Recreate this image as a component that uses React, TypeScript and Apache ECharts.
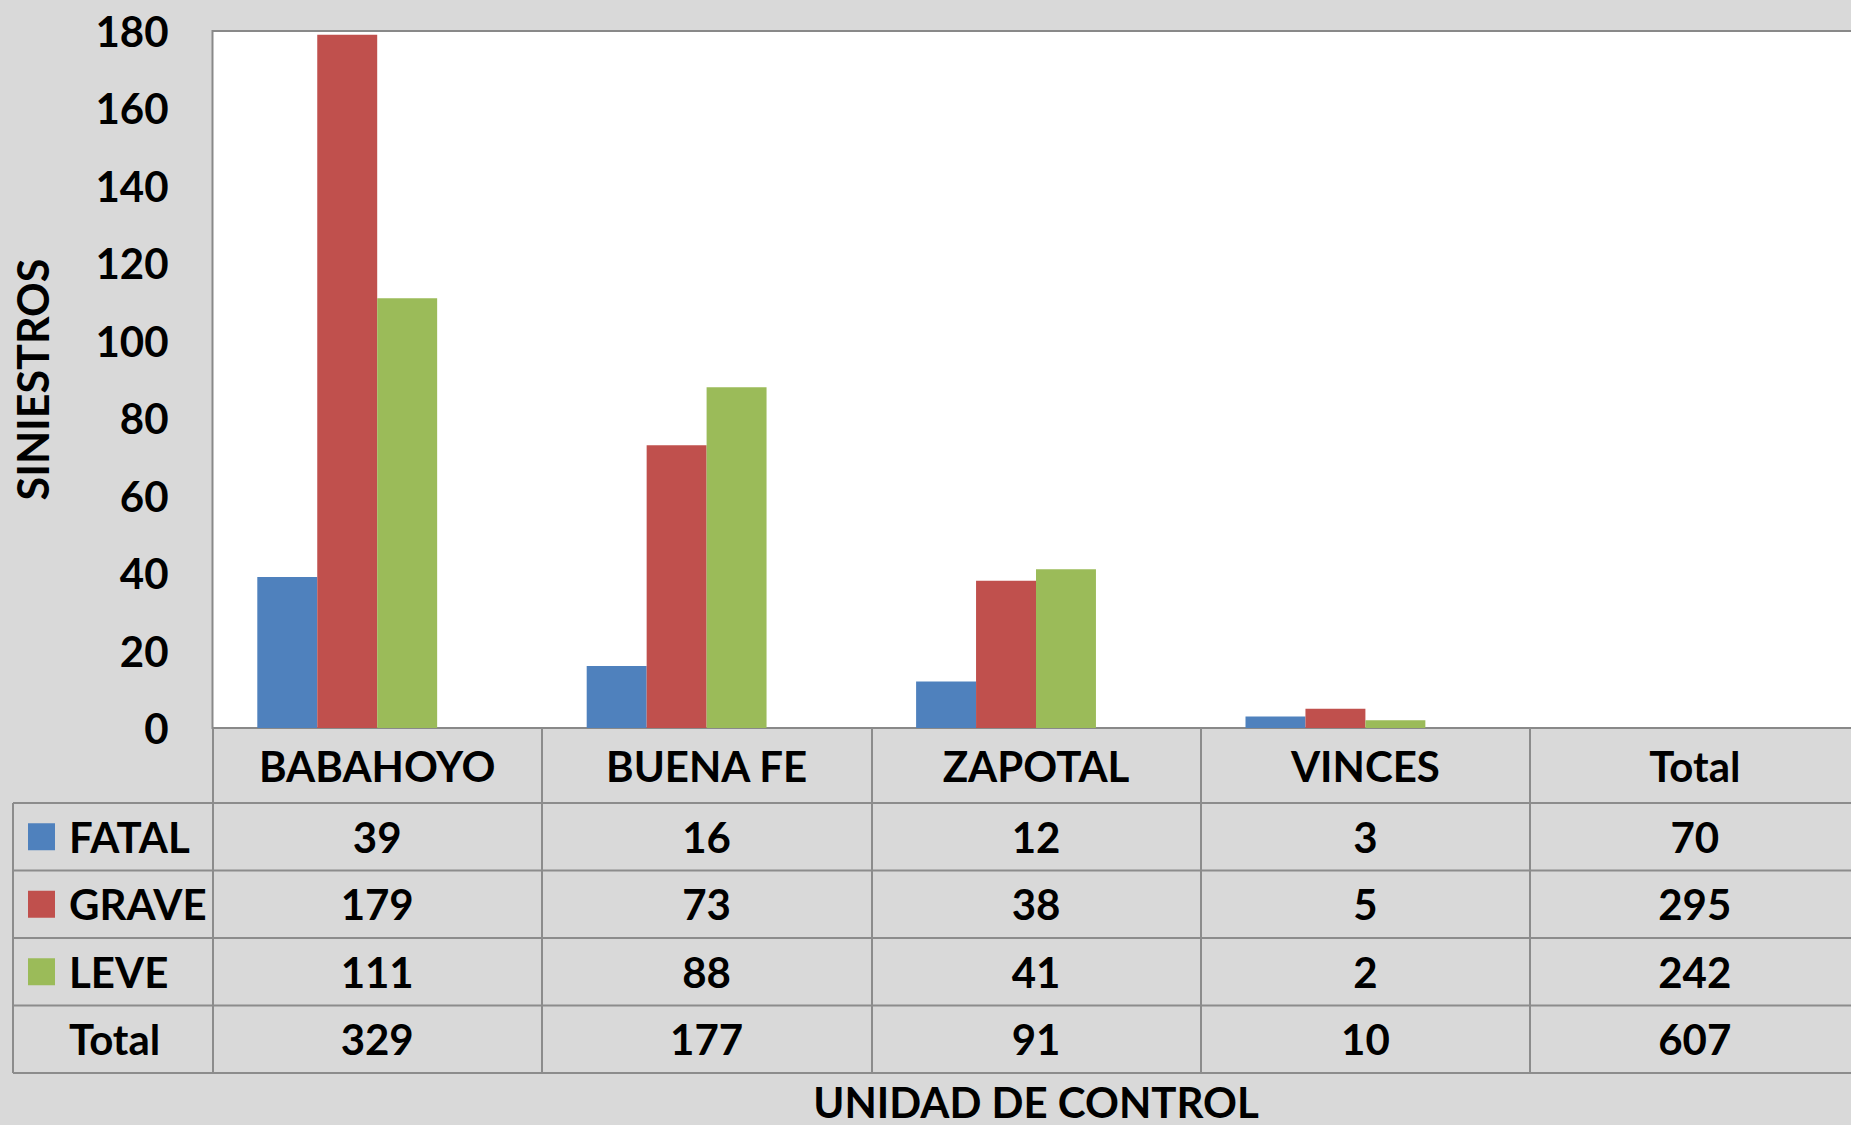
import React, { useEffect, useRef } from "react";
import * as echarts from "echarts";

// ---- data ----
const categories = ["BABAHOYO", "BUENA FE", "ZAPOTAL", "VINCES", "Total"];
const seriesNames = ["FATAL", "GRAVE", "LEVE"];
const fatal = [39, 16, 12, 3];
const grave = [179, 73, 38, 5];
const leve = [111, 88, 41, 2];
const rowTotals = [70, 295, 242]; // Total column for FATAL, GRAVE, LEVE
const columnTotals = [329, 177, 91, 10];
const grandTotal = 607;
const yMin = 0;
const yMax = 180;
const yInterval = 20;

// ---- layout / style ----
const W = 1851;
const H = 1125;
const FONT = "Lato";
const GRID_LEFT = 212.5;
const GRID_TOP = 31;
const GRID_BOTTOM_Y = 728;
const GRID_W = 1647;
const TABLE_LEFT = 13;
const ROW_TOP = 803;
const ROW_H = 67.5;
const LINE_COLOR = "#8c8c8c";
const COLORS = ["#4F81BD", "#C0504D", "#9BBB59"];

const txt = { fontFamily: FONT, fontWeight: "bold" as const, fontSize: 42, color: "#000" };

export default function App() {
  const ref = useRef<HTMLDivElement>(null);

  useEffect(() => {
    if (!ref.current) return;
    const chart = echarts.init(ref.current, null, { renderer: "svg" });

    const tableRows = [
      [...fatal, rowTotals[0]],
      [...grave, rowTotals[1]],
      [...leve, rowTotals[2]],
      [...columnTotals, grandTotal],
    ];

    const rowAxes = tableRows.map((vals, i) => ({
      type: "category",
      gridIndex: 0,
      position: "bottom",
      offset: ROW_TOP + ROW_H * (i + 0.5) - GRID_BOTTOM_Y,
      data: vals.map(String),
      axisLine: { show: false },
      axisTick: { show: false },
      splitLine: { show: false },
      axisLabel: { ...txt, interval: 0, margin: 0, verticalAlign: "middle" },
    }));

    const graphics: any[] = [];
    for (let i = 0; i <= 4; i++) {
      const y = ROW_TOP + ROW_H * i;
      graphics.push({
        type: "line",
        shape: { x1: TABLE_LEFT, y1: y, x2: W + 20, y2: y },
        style: { stroke: LINE_COLOR, lineWidth: 2 },
        z: 10,
      });
    }
    graphics.push({
      type: "line",
      shape: { x1: TABLE_LEFT, y1: ROW_TOP, x2: TABLE_LEFT, y2: ROW_TOP + ROW_H * 4 },
      style: { stroke: LINE_COLOR, lineWidth: 2 },
      z: 10,
    });
    graphics.push({
      type: "text",
      x: 69,
      y: ROW_TOP + ROW_H * 3.5,
      style: {
        text: "Total",
        font: `bold 42px ${FONT}`,
        fill: "#000",
        textVerticalAlign: "middle",
        verticalAlign: "middle",
        align: "left",
      },
      z: 10,
    });

    const option: any = {
      animation: false,
      backgroundColor: "#D9D9D9",
      textStyle: { fontFamily: FONT },
      grid: [
        {
          left: GRID_LEFT,
          top: GRID_TOP,
          width: GRID_W,
          height: GRID_BOTTOM_Y - GRID_TOP,
          show: true,
          backgroundColor: "#FFFFFF",
          borderColor: "#898989",
          borderWidth: 2,
          containLabel: false,
          outerBoundsMode: "none",
        },
        {
          left: GRID_LEFT,
          top: GRID_BOTTOM_Y,
          width: GRID_W,
          height: ROW_TOP + ROW_H * 4 - GRID_BOTTOM_Y,
          show: false,
          containLabel: false,
          outerBoundsMode: "none",
        },
      ],
      legend: {
        data: seriesNames,
        orient: "vertical",
        left: 28,
        top: ROW_TOP + ROW_H / 2 - 21,
        padding: 0,
        icon: "rect",
        itemWidth: 27,
        itemHeight: 27,
        itemGap: ROW_H - 42,
        selectedMode: false,
        textStyle: { ...txt, lineHeight: 42, padding: [0, 0, 0, 9] },
      },
      xAxis: [
        {
          type: "category",
          gridIndex: 0,
          data: categories,
          position: "bottom",
          axisLine: { show: false },
          axisTick: { show: false },
          axisLabel: { ...txt, interval: 0, margin: (ROW_TOP - GRID_BOTTOM_Y) / 2, verticalAlign: "middle" },
          name: "UNIDAD DE CONTROL",
          nameLocation: "middle",
          nameGap: 374,
          nameTextStyle: { ...txt, verticalAlign: "middle", align: "center" },
        },
        ...rowAxes,
        {
          type: "category",
          gridIndex: 1,
          data: categories,
          axisLine: { show: false },
          axisTick: { show: false },
          axisLabel: { show: false },
          splitLine: { show: true, lineStyle: { color: LINE_COLOR, width: 2 } },
        },
      ],
      yAxis: [
        {
          type: "value",
          gridIndex: 0,
          min: yMin,
          max: yMax,
          interval: yInterval,
          axisLine: { show: false },
          axisTick: { show: false },
          splitLine: { show: false },
          axisLabel: { ...txt, margin: 44 },
          name: "SINIESTROS",
          nameLocation: "middle",
          nameGap: GRID_LEFT - 32,
          nameRotate: 90,
          nameTextStyle: { ...txt, fontSize: 43, verticalAlign: "middle", align: "center" },
        },
        {
          type: "value",
          gridIndex: 1,
          show: false,
        },
      ],
      series: [
        ...[fatal, grave, leve].map((d, i) => ({
          name: seriesNames[i],
          type: "bar",
          xAxisIndex: 0,
          yAxisIndex: 0,
          data: d,
          barGap: "0%",
          barCategoryGap: "27.2%",
          itemStyle: { color: COLORS[i] },
        })),
        {
          name: "Total",
          type: "bar",
          xAxisIndex: 0,
          yAxisIndex: 0,
          data: [null, null, null, null, null],
          barGap: "0%",
          barCategoryGap: "27.2%",
        },
      ],
      graphic: graphics,
    };

    chart.setOption(option);
    return () => chart.dispose();
  }, []);

  return (
    <div
      ref={ref}
      style={{ position: "fixed", left: 0, top: 0, width: W, height: H }}
    />
  );
}
